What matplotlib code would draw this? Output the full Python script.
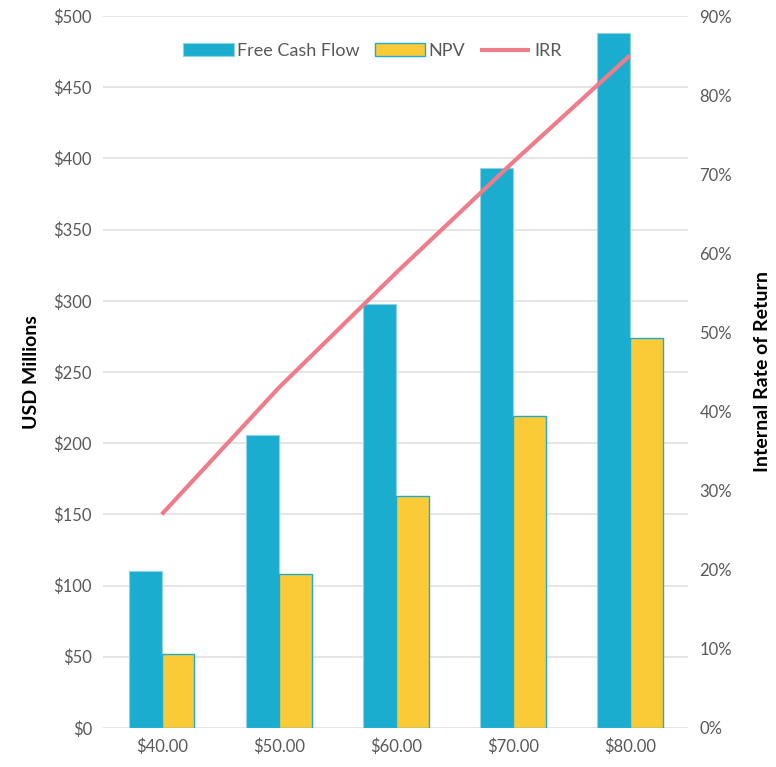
import numpy as np
import matplotlib.pyplot as plt
from matplotlib.ticker import FuncFormatter

plt.rcParams['font.family'] = ['Lato', 'DejaVu Sans']

prices = ['$40.00', '$50.00', '$60.00', '$70.00', '$80.00']
fcf = [110, 206, 298, 393, 488]
npv = [52, 108, 163, 219, 274]
irr = [27, 43, 57.5, 71.5, 85]

blue = '#1BADCF'
yellow = '#FBCB37'
pink = '#EE7D89'
grey_txt = '#595959'

fig = plt.figure(figsize=(7.76, 7.67), dpi=100)
ax = fig.add_axes([0.133, 0.051, 0.754, 0.928])
ax2 = ax.twinx()

x = np.arange(len(prices))
w = 0.28
b1 = ax.bar(x - w/2, fcf, w, color=blue, edgecolor='#8FD3E3', linewidth=0.8,
            label='Free Cash Flow', zorder=3)
b2 = ax.bar(x + w/2, npv, w, color=yellow, edgecolor=blue, linewidth=1.0,
            label='NPV', zorder=3)
l1, = ax2.plot(x, irr, color=pink, lw=3, label='IRR', solid_capstyle='butt')

ax.set_xlim(-0.5, 4.5)
ax.set_ylim(0, 500)
ax.set_yticks(range(0, 501, 50))
ax.yaxis.set_major_formatter(FuncFormatter(lambda v, p: f'${v:.0f}'))
ax.set_xticks(x)
ax.set_xticklabels(prices)
ax.grid(axis='y', color='#E3E3E3', lw=1.3, zorder=0)
ax.set_axisbelow(True)

ax2.set_ylim(0, 90)
ax2.set_yticks(range(0, 91, 10))
ax2.yaxis.set_major_formatter(FuncFormatter(lambda v, p: f'{v:.0f}%'))

for a in (ax, ax2):
    for s in a.spines.values():
        s.set_visible(False)
    a.tick_params(length=0, labelsize=12, colors=grey_txt, pad=8)

ax.set_ylabel('USD Millions', fontsize=14, fontweight='bold', labelpad=10)
ax2.set_ylabel('Internal Rate of Return', fontsize=14, fontweight='bold',
               rotation=90, labelpad=16)

leg = ax.legend([b1, b2, l1], ['Free Cash Flow', 'NPV', 'IRR'], loc='upper center',
                bbox_to_anchor=(0.46, 0.985), ncol=3, frameon=False, fontsize=13,
                handlelength=2.8, handletextpad=0.2, columnspacing=0.8)
for t in leg.get_texts():
    t.set_color(grey_txt)

plt.savefig('out.png', dpi=100)
